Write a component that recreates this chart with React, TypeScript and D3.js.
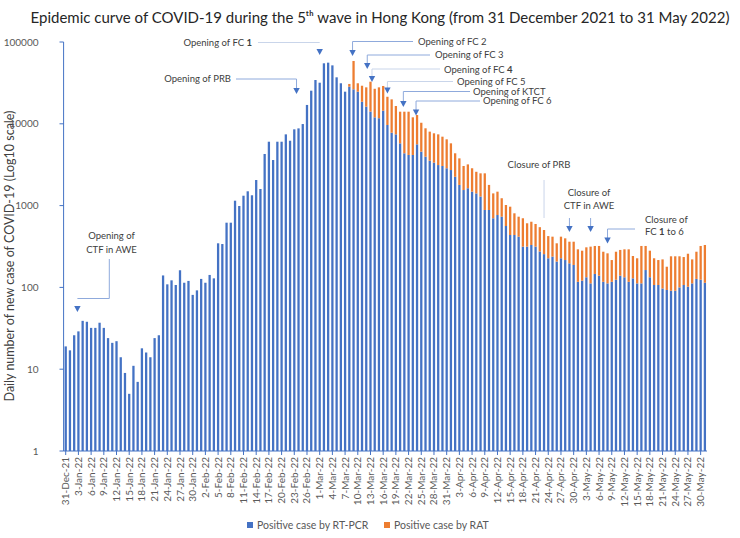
import React from "react";
import * as d3 from "d3";

// ---- DATA ----
const startDate = new Date(2021, 11, 31);
const endDate = new Date(2022, 5, 1);
const dates: Date[] = d3.timeDay.range(startDate, endDate); // 152 days

const pcrCases: number[] = [
  19, 17, 26, 29, 39, 38, 32, 32, 37, 32,
  24, 21, 22, 14, 9, 5, 11, 7, 18, 16,
  14, 24, 26, 140, 109, 122, 107, 162, 114, 120,
  81, 92, 127, 114, 142, 129, 346, 339, 618, 618,
  1148, 989, 1321, 1496, 1337, 2055, 1596, 4276, 6040, 3607,
  6040, 6040, 7430, 6210, 8560, 8790, 9930, 17000, 25400, 34300,
  31800, 54900, 55900, 51800, 37000, 31300, 24700, 28400, 26400, 24700,
  18600, 16200, 14100, 12000, 11700, 14450, 9670, 7780, 7430, 5770,
  4360, 4160, 4160, 5610, 4560, 3960, 3540, 3350, 3130, 3050,
  2860, 2720, 2250, 1790, 1550, 1630, 1480, 1410, 1290, 884,
  884, 700, 767, 732, 563, 437, 437, 417, 315, 315,
  330, 315, 275, 255, 227, 238, 207, 227, 216, 197,
  188, 117, 121, 133, 112, 146, 139, 117, 112, 117,
  124, 139, 133, 117, 129, 112, 112, 163, 133, 107,
  107, 97, 93, 91, 91, 100, 107, 102, 112, 127,
  124, 114,
];

const ratCases: number[] = [
  0, 0, 0, 0, 0, 0, 0, 0, 0, 0,
  0, 0, 0, 0, 0, 0, 0, 0, 0, 0,
  0, 0, 0, 0, 0, 0, 0, 0, 0, 0,
  0, 0, 0, 0, 0, 0, 0, 0, 0, 0,
  0, 0, 0, 0, 0, 0, 0, 0, 0, 0,
  0, 0, 0, 0, 0, 0, 0, 0, 0, 0,
  0, 0, 0, 0, 0, 0, 0, 2300, 32200, 6600,
  10600, 11700, 18600, 14800, 16200, 14550, 11730, 12120, 9070, 8290,
  9700, 9900, 7840, 7190, 5740, 4850, 4480, 4300, 4300, 3910,
  3600, 3050, 2110, 1990, 1500, 1560, 1380, 1180, 1190, 1596,
  906, 710, 713, 498, 454, 533, 368, 315, 385, 293,
  305, 281, 270, 248, 197, 179, 139, 190, 182, 165,
  174, 175, 160, 176, 203, 175, 182, 156, 149, 99,
  149, 148, 159, 175, 113, 115, 209, 158, 148, 120,
  109, 123, 86, 149, 149, 140, 128, 156, 108, 146,
  197, 216,
];

const yTicks: number[] = [1, 10, 100, 1000, 10000, 100000];
const seriesNames: string[] = ["Positive case by RT-PCR", "Positive case by RAT"];
const titleText =
  "Epidemic curve of COVID-19 during the 5\u1D57\u02B0 wave in Hong Kong (from 31 December 2021 to 31 May 2022)";

// ---- STYLE ----
const BLUE = "#4472C4";
const ORANGE = "#ED7D31";
const GRAY = "#595959";
const LINE = "#8FAADC";
const LIGHT = "#C9D5EA";
const FONT = "Lato, 'Open Sans', sans-serif";

const W = 740;
const H = 538;

export default function App() {
  const x = d3
    .scaleBand<number>()
    .domain(dates.map((_, i) => i))
    .range([63.6, 707])
    .padding(0);
  const y = d3.scaleLog().domain([1, 100000]).range([451, 42]);
  const bw = x.bandwidth() * 0.54;
  const cx = (i: number) => (x(i) as number) + x.bandwidth() / 2;
  const fmt = d3.timeFormat("%-d-%b-%y");

  const tri = (xc: number, tip: number) =>
    `M${xc - 3.2},${tip - 6} L${xc + 3.2},${tip - 6} L${xc},${tip} Z`;

  const annFont = { fontFamily: FONT, fontSize: 9.5, fill: "#404040" };

  return (
    <svg width={W} height={H} style={{ display: "block", position: "absolute", left: 0, top: 0 }}>
      <rect x={0} y={0} width={W} height={H} fill="#fff" />
      {/* Title */}
      <text x={380} y={23} textAnchor="middle" fontFamily={FONT} fontSize={15} fill="#262626">
        {titleText}
      </text>

      {/* Y axis title */}
      <text
        transform={`translate(14,${256}) rotate(-90)`}
        textAnchor="middle"
        fontFamily={FONT}
        fontSize={12.5}
        fill="#404040"
      >
        Daily number of new case of COVID-19 (Log10 scale)
      </text>

      {/* Bars */}
      <g>
        {pcrCases.map((v, i) => (
          <rect key={"p" + i} x={cx(i) - bw / 2} y={y(Math.max(v, 1))} width={bw} height={y(1) - y(Math.max(v, 1))} fill={BLUE} />
        ))}
        {ratCases.map((v, i) =>
          v > 0 ? (
            <rect
              key={"r" + i}
              x={cx(i) - bw / 2}
              y={y(pcrCases[i] + v)}
              width={bw}
              height={y(pcrCases[i]) - y(pcrCases[i] + v)}
              fill={ORANGE}
            />
          ) : null
        )}
      </g>

      {/* Y axis */}
      <line x1={63.6} x2={63.6} y1={42} y2={451} stroke={BLUE} strokeWidth={1} />
      {yTicks.map((t) => (
        <g key={t}>
          <line x1={59.5} x2={63.6} y1={y(t)} y2={y(t)} stroke={BLUE} />
          <text x={38.5} y={y(t) + 3.5} textAnchor="end" fontFamily={FONT} fontSize={10} fill={GRAY}>
            {t}
          </text>
        </g>
      ))}

      {/* X axis */}
      <line x1={63.6} x2={707} y1={451} y2={451} stroke={BLUE} strokeWidth={1} />
      {dates.map((d, i) =>
        i % 3 === 0 ? (
          <g key={i}>
            <line x1={cx(i)} x2={cx(i)} y1={451} y2={455} stroke={BLUE} />
            <text
              transform={`translate(${cx(i) + 3.5},${457}) rotate(-90)`}
              textAnchor="end"
              fontFamily={FONT}
              fontSize={10}
              fill={GRAY}
            >
              {fmt(d)}
            </text>
          </g>
        ) : null
      )}

      {/* Legend */}
      <rect x={247} y={522} width={6} height={6} fill={BLUE} />
      <text x={257} y={528.5} fontFamily={FONT} fontSize={10.5} fill={GRAY}>{seriesNames[0]}</text>
      <rect x={384} y={522} width={6} height={6} fill={ORANGE} />
      <text x={394} y={528.5} fontFamily={FONT} fontSize={10.5} fill={GRAY}>{seriesNames[1]}</text>

      {/* Annotations */}
      <g>
        {/* Opening of CTF in AWE */}
        <text x={111.5} y={239} textAnchor="middle" {...annFont}>Opening of</text>
        <text x={111.5} y={253} textAnchor="middle" {...annFont}>CTF in AWE</text>
        <path d={`M109.3,259 V298.5 H${cx(3) - 1}`} fill="none" stroke={LINE} />
        <path d={tri(cx(3) - 1, 312)} fill={BLUE} />

        {/* Opening of PRB */}
        <text x={231} y={82} textAnchor="end" {...annFont}>Opening of PRB</text>
        <path d={`M236,79 H${cx(55) - 2} V89`} fill="none" stroke={LINE} />
        <path d={tri(cx(55) - 2, 94)} fill={BLUE} />

        {/* Opening of FC 1 */}
        <text x={252} y={45.5} textAnchor="end" {...annFont}>
          Opening of FC <tspan fontWeight="bold">1</tspan>
        </text>
        <path d={`M258,42.5 H${cx(60)}`} fill="none" stroke={LIGHT} />
        <path d={tri(cx(60), 55)} fill={BLUE} />

        {/* Opening of FC 2 */}
        <text x={418} y={44.5} {...annFont}>Opening of FC 2</text>
        <path d={`M413,41.5 H${cx(68) - 1} V52`} fill="none" stroke={LINE} />
        <path d={tri(cx(68) - 1, 56)} fill={BLUE} />

        {/* Opening of FC 3 */}
        <text x={435} y={58} {...annFont}>Opening of FC 3</text>
        <path d={`M430,55 H${cx(71) + 1} V65`} fill="none" stroke={LINE} />
        <path d={tri(cx(71) + 1, 69)} fill={BLUE} />

        {/* Opening of FC 4 */}
        <text x={444} y={72.5} {...annFont}>
          Opening of FC <tspan fontWeight="bold">4</tspan>
        </text>
        <path d={`M440,69 H${cx(72) + 1.5} V78`} fill="none" stroke={LIGHT} />
        <path d={tri(cx(72) + 1.5, 82)} fill={BLUE} />

        {/* Opening of FC 5 */}
        <text x={457} y={84.5} {...annFont}>Opening of FC 5</text>
        <path d={`M453,81.5 H${cx(76)} V89`} fill="none" stroke={LIGHT} />
        <path d={tri(cx(76), 93.5)} fill={BLUE} />

        {/* Opening of KTCT */}
        <text x={473} y={94.5} {...annFont}>Opening of KTCT</text>
        <path d={`M470,91.5 H${cx(80) - 1} V103`} fill="none" stroke={LINE} />
        <path d={tri(cx(80) - 1, 107)} fill={BLUE} />

        {/* Opening of FC 6 */}
        <text x={483} y={104} {...annFont}>Opening of FC 6</text>
        <path d={`M480,101 H${cx(83) - 1} V111`} fill="none" stroke={LINE} />
        <path d={tri(cx(83) - 1, 115.5)} fill={BLUE} />

        {/* Closure of PRB */}
        <text x={539} y={168} textAnchor="middle" {...annFont}>Closure of PRB</text>
        <path d={`M${cx(113)},180 V218`} fill="none" stroke={LIGHT} />

        {/* Closure of CTF in AWE */}
        <text x={589} y={196} textAnchor="middle" {...annFont}>Closure of</text>
        <text x={589} y={208.5} textAnchor="middle" {...annFont}>CTF in AWE</text>
        <path d={`M${cx(119)},218 V227`} fill="none" stroke={LINE} />
        <path d={tri(cx(119), 232)} fill={BLUE} />
        <path d={`M${cx(124)},218 V227`} fill="none" stroke={LINE} />
        <path d={tri(cx(124), 232)} fill={BLUE} />

        {/* Closure of FC 1 to 6 */}
        <text x={645} y={223} {...annFont}>Closure of</text>
        <text x={645} y={235} {...annFont}>
          FC <tspan fontWeight="bold">1</tspan> to 6
        </text>
        <path d={`M635,229 H${cx(128)} V239`} fill="none" stroke={LINE} />
        <path d={tri(cx(128), 243.5)} fill={BLUE} />
      </g>
    </svg>
  );
}
